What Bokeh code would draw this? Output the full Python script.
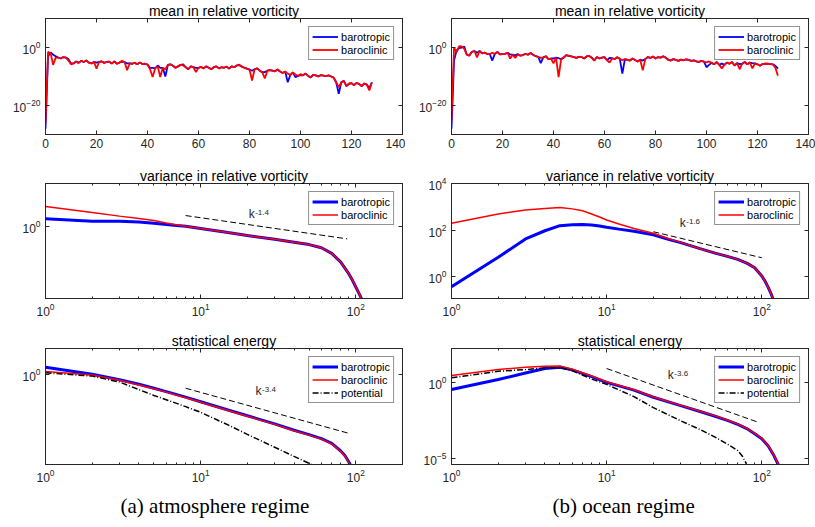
import numpy as np
from bokeh.plotting import figure
from bokeh.models import (Range1d, FixedTicker, LinearAxis, LogAxis, CustomJSTickFormatter,
                          Label, Title)
from bokeh.layouts import column, row
from bokeh.embed import file_html
from bokeh.resources import INLINE

# ---------------- data (log10 of the plotted values) ----------------
k_mean = list(range(129))

atm_mean_baroclinic_log10 = [
    -26, -1.5, -2.0, -6.0, -3.5, -3.5, -3.8, -3.3, -3.5, -4.5,
    -5.8, -5.5, -4.8, -5.3, -4.6, -5.0, -4.5, -5.2, -5.5, -5.0,
    -7.3, -5.0, -4.8, -5.3, -5.0, -4.9, -5.5, -4.8, -5.6, -5.2,
    -4.6, -5.0, -7.8, -5.5, -5.6, -5.3, -5.8, -5.2, -5.7, -5.6,
    -5.9, -7.5, -10.2, -7.2, -6.5, -10.2, -7.0, -7.5, -6.0, -5.8,
    -6.3, -7.0, -6.5, -6.0, -6.2, -6.8, -7.5, -6.5, -6.8, -8.5,
    -7.0, -6.7, -7.2, -6.5, -7.0, -7.5, -6.8, -6.5, -7.2, -6.8,
    -7.0, -6.6, -7.3, -6.5, -6.8, -6.2, -5.9, -6.6, -7.0, -7.3,
    -7.6, -11.4, -7.5, -7.2, -8.0, -8.5, -10.7, -8.0, -7.8, -8.0,
    -8.2, -7.6, -8.3, -8.8, -8.3, -9.0, -9.5, -8.6, -9.3, -9.8,
    -9.2, -9.6, -9.0, -9.8, -10.3, -9.4, -9.6, -10.0, -9.5, -9.7,
    -9.9, -9.6, -10.0, -10.4, -12.0, -13.7, -12.0, -11.5, -13.3, -12.5,
    -12.3, -13.0, -12.2, -12.6, -13.3, -12.4, -12.8, -14.8, -12.0]

atm_mean_barotropic_log10 = [
    -28, -3.0, -1.7, -2.5, -3.0, -3.5, -3.8, -3.3, -3.5, -4.0,
    -5.5, -5.5, -4.8, -5.3, -4.6, -5.0, -4.5, -5.2, -5.5, -5.0,
    -5.2, -5.0, -4.8, -5.3, -5.0, -4.9, -5.5, -4.8, -5.6, -5.2,
    -4.9, -5.0, -5.5, -5.5, -5.6, -5.3, -5.8, -5.2, -5.7, -5.6,
    -5.9, -7.0, -7.0, -7.2, -6.2, -7.0, -7.0, -10.0, -6.0, -5.8,
    -6.3, -7.0, -6.5, -6.0, -5.8, -6.8, -7.5, -6.5, -6.8, -7.0,
    -7.0, -6.7, -7.2, -6.5, -7.0, -7.5, -6.8, -6.5, -7.2, -6.8,
    -7.0, -6.6, -7.3, -6.5, -6.8, -6.2, -6.1, -6.6, -7.0, -7.3,
    -7.6, -8.0, -7.5, -7.2, -8.0, -8.5, -8.5, -8.0, -7.8, -8.0,
    -8.2, -7.6, -8.3, -8.8, -8.3, -12.0, -9.5, -8.6, -10.2, -9.8,
    -9.5, -9.6, -9.0, -9.8, -10.3, -9.4, -9.6, -10.0, -9.5, -9.7,
    -9.9, -9.6, -10.0, -10.4, -12.0, -16.0, -12.0, -11.5, -13.3, -12.5,
    -12.3, -13.0, -12.2, -12.6, -13.3, -12.4, -12.8, -14.0, -12.0]

ocn_mean_baroclinic_log10 = [
    -25, 0.0, -1.7, 0.5, 0.4, -0.5, -2.5, -2.8, -1.5, -1.2,
    -3.4, -1.2, -2.0, -1.8, -2.2, -2.3, -1.8, -2.2, -1.5, -2.4,
    -2.3, -2.2, -1.8, -3.8, -2.5, -3.6, -2.3, -2.8, -2.6, -2.2,
    -2.5, -1.9, -2.5, -3.0, -3.2, -3.6, -3.4, -3.0, -4.0, -3.8,
    -5.5, -3.5, -10.2, -4.0, -3.5, -2.6, -2.9, -3.1, -3.3, -3.6,
    -3.2, -3.3, -3.8, -3.1, -2.9, -3.5, -4.5, -3.3, -3.8, -3.5,
    -3.3, -4.4, -5.2, -3.7, -4.0, -3.4, -3.9, -4.4, -4.0, -4.3,
    -4.5, -3.8, -4.3, -4.8, -4.2, -7.9, -4.0, -3.3, -3.6, -3.1,
    -3.8, -3.3, -3.5, -3.0, -3.5, -4.2, -4.5, -4.0, -4.3, -4.6,
    -4.2, -4.4, -4.1, -4.3, -4.6, -4.4, -4.8, -5.0, -4.6, -4.9,
    -5.1, -4.8, -5.3, -5.8, -5.0, -6.0, -7.2, -6.0, -5.2, -5.6,
    -5.0, -6.2, -5.4, -7.5, -5.6, -5.0, -5.8, -5.2, -7.2, -5.5,
    -5.8, -6.3, -5.7, -5.6, -5.6, -5.7, -5.8, -7.0, -9.7]

ocn_mean_barotropic_log10 = [
    -28, -4.5, -1.0, -0.2, 0.0, 0.3, -2.5, -2.8, -1.5, -1.2,
    -1.8, -1.2, -2.0, -1.8, -2.2, -2.3, -4.5, -2.2, -1.5, -2.4,
    -2.3, -2.2, -1.8, -2.4, -2.5, -2.7, -2.3, -2.8, -2.6, -2.2,
    -2.5, -1.9, -2.5, -3.0, -3.2, -5.4, -3.4, -3.0, -4.0, -3.8,
    -3.8, -3.5, -3.7, -4.0, -3.5, -2.6, -2.9, -3.1, -3.3, -3.6,
    -3.2, -3.3, -3.8, -3.1, -2.9, -3.5, -4.5, -3.3, -3.8, -3.5,
    -3.3, -4.4, -3.6, -3.7, -4.0, -3.4, -3.9, -9.0, -4.0, -4.3,
    -4.5, -3.8, -4.3, -4.8, -4.2, -4.5, -4.0, -3.3, -3.6, -3.1,
    -3.8, -3.3, -3.5, -3.0, -3.5, -4.2, -4.5, -4.0, -4.3, -4.6,
    -4.2, -4.4, -4.1, -4.3, -4.6, -4.4, -4.8, -5.0, -4.6, -4.9,
    -6.8, -6.0, -5.3, -5.8, -5.0, -6.0, -5.5, -6.0, -5.2, -5.6,
    -5.0, -6.2, -5.4, -5.7, -5.6, -5.0, -5.8, -5.2, -5.4, -5.5,
    -5.8, -6.3, -5.7, -5.6, -5.6, -5.7, -5.8, -6.3, -7.3]

# variance in relative vorticity, atmosphere
atm_var_k = [1, 2, 3, 4, 5, 6, 7, 8, 10, 15, 20, 30, 40, 50, 60, 70, 80, 90, 95, 100, 105, 110, 115]
atm_var_barotropic_log10 = [0.48, 0.33, 0.33, 0.28, 0.20, 0.13, 0.07, 0.02, -0.12, -0.38, -0.56,
                            -0.8, -0.98, -1.13, -1.33, -1.68, -2.23, -2.95, -3.35, -3.78, -4.2,
                            -4.6, -5.2]
atm_var_baroclinic_log10 = [1.25, 0.88, 0.65, 0.5, 0.37, 0.22, 0.1, 0.02, -0.12, -0.38, -0.56,
                            -0.8, -0.98, -1.13, -1.33, -1.68, -2.23, -2.95, -3.35, -3.78, -4.2,
                            -4.6, -5.2]
atm_var_slope = -1.4
atm_var_slope_k = [8, 88]
atm_var_slope_amp = 10 ** 1.95

# variance in relative vorticity, ocean
ocn_var_k = [1, 2, 3, 4, 5, 6, 7, 8, 9, 10, 12, 15, 20, 25, 30, 40, 50, 60, 70, 80, 90, 100,
             105, 110, 115, 120, 125]
ocn_var_baroclinic_log10 = [2.29, 2.69, 2.86, 2.93, 2.97, 2.91, 2.83, 2.69, 2.56, 2.43, 2.26, 2.07,
                            1.86, 1.64, 1.47, 1.2, 1.01, 0.87, 0.74, 0.58, 0.38, 0.03, -0.2, -0.46,
                            -0.75, -1.1, -1.5]
ocn_var_barotropic_log10 = [-0.43, 0.83, 1.62, 1.97, 2.19, 2.23, 2.24, 2.22, 2.17, 2.12, 2.04, 1.95,
                            1.8, 1.6, 1.46, 1.2, 1.01, 0.87, 0.74, 0.58, 0.38, 0.03, -0.2, -0.46,
                            -0.75, -1.1, -1.5]
ocn_var_slope = -1.6
ocn_var_slope_k = [20, 100]
ocn_var_slope_amp = 10 ** 4.01

# statistical energy, atmosphere
atm_en_k = [1, 2, 3, 4, 5, 6, 8, 10, 15, 20, 30, 40, 50, 60, 70, 80, 85, 90, 95, 100]
atm_en_barotropic_log10 = [0.58, 0.02, -0.42, -0.78, -1.09, -1.36, -1.8, -2.16, -2.82, -3.27, -3.92,
                           -4.42, -4.77, -5.09, -5.47, -6.07, -6.42, -6.92, -7.47, -8.1]
atm_en_baroclinic_log10 = [0.24, -0.05, -0.46, -0.83, -1.14, -1.4, -1.84, -2.2, -2.86, -3.31, -3.96,
                           -4.46, -4.81, -5.13, -5.51, -6.11, -6.46, -6.96, -7.51, -8.14]
atm_en_pot_k = [1, 2, 3, 4, 5, 6, 8, 10, 15, 20, 30, 40, 50, 55, 60]
atm_en_potential_log10 = [0.13, -0.13, -0.6, -1.2, -1.67, -2.0, -2.55, -3.0, -4.0, -4.75, -5.77,
                          -6.5, -7.05, -7.3, -7.6]
atm_en_slope = -3.4
atm_en_slope_k = [8, 90]
atm_en_slope_amp = 10 ** 1.98

# statistical energy, ocean
ocn_en_k = [1, 2, 3, 4, 5, 6, 8, 10, 15, 20, 30, 40, 50, 60, 70, 80, 90, 100, 110, 120, 128, 135]
ocn_en_baroclinic_log10 = [0.43, 0.82, 0.97, 1.04, 1.06, 0.84, 0.4, 0.02, -0.5, -0.97, -1.52, -1.9,
                           -2.21, -2.48, -2.75, -3.02, -3.36, -3.68, -4.16, -4.8, -5.4, -6.2]
ocn_en_barotropic_log10 = [-0.48, 0.17, 0.6, 0.89, 0.97, 0.8, 0.36, -0.02, -0.52, -0.99, -1.54, -1.92,
                           -2.23, -2.5, -2.77, -3.04, -3.38, -3.7, -4.18, -4.82, -5.42, -6.22]
ocn_en_pot_k = [1, 2, 3, 4, 5, 6, 8, 10, 15, 20, 30, 40, 50, 60, 70, 75, 80, 85]
ocn_en_potential_log10 = [0.28, 0.71, 0.82, 0.93, 0.95, 0.75, 0.2, -0.15, -0.95, -1.67, -2.53, -3.1,
                          -3.6, -4.05, -4.48, -4.85, -5.4, -6.0]
ocn_en_slope = -3.6
ocn_en_slope_k = [10, 95]
ocn_en_slope_amp = 10 ** 4.49

mean_xticks = [0, 20, 40, 60, 80, 100, 120, 140]
log_xticks = [1, 10, 100]
log_xminor = [2, 3, 4, 5, 6, 7, 8, 9, 20, 30, 40, 50, 60, 70, 80, 90, 200]

# ---------------- styling ----------------
FONT = "Liberation Sans"
AX = "#262626"
BLUE = "#0000ff"
RED = "#ff0000"


def pw(e):
    return [10.0 ** v for v in e]


def style_axis(ax, standoff=5):
    ax.major_tick_in = 4
    ax.major_tick_out = 0
    ax.minor_tick_in = 2
    ax.minor_tick_out = 0
    ax.axis_line_color = AX
    ax.axis_line_width = 1
    ax.major_tick_line_color = AX
    ax.minor_tick_line_color = AX
    ax.major_label_text_font = FONT
    ax.major_label_text_font_size = "12px"
    ax.major_label_text_color = AX
    ax.major_label_standoff = standoff


def make_fig(title, xlog, xr, xticks, xminor, yr, yticks, left, right, top, fh, bottom):
    p = figure(frame_width=357, frame_height=fh,
               x_axis_type="log" if xlog else "linear", y_axis_type="log",
               x_range=Range1d(*xr), y_range=Range1d(*yr),
               output_backend="svg", toolbar_location=None,
               min_border_left=left, min_border_right=right,
               min_border_top=top, min_border_bottom=bottom,
               background_fill_color="white", border_fill_color="white",
               outline_line_color=AX, outline_line_width=1)
    p.title.text = title
    p.title.align = "center"
    p.title.text_font = FONT
    p.title.text_font_size = "14px"
    p.title.text_font_style = "normal"
    p.title.text_color = "#000000"
    p.title.standoff = 0
    p.grid.visible = False
    p.xaxis.ticker = FixedTicker(ticks=xticks, minor_ticks=xminor)
    p.yaxis.ticker = FixedTicker(ticks=yticks, minor_ticks=[])
    style_axis(p.xaxis[0], standoff=4)
    style_axis(p.yaxis[0], standoff=5)
    # mirrored (box) ticks
    XA = LogAxis if xlog else LinearAxis
    top_ax = XA(ticker=FixedTicker(ticks=xticks, minor_ticks=xminor),
                formatter=CustomJSTickFormatter(code="return ''"))
    right_ax = LogAxis(ticker=FixedTicker(ticks=yticks, minor_ticks=[]),
                       formatter=CustomJSTickFormatter(code="return ''"))
    for a in (top_ax, right_ax):
        style_axis(a, standoff=0)
        a.major_label_text_font_size = "1px"
    p.add_layout(top_ax, "above")
    p.add_layout(right_ax, "right")
    return p


def style_legend(p):
    lg = p.legend[0]
    lg.location = "top_right"
    lg.margin = 8
    lg.padding = 3
    lg.spacing = 0
    lg.label_text_font = FONT
    lg.label_text_font_size = "11px"
    lg.label_text_color = "#000000"
    lg.label_height = 13
    lg.glyph_height = 13
    lg.glyph_width = 26
    lg.label_standoff = 3
    lg.border_line_color = AX
    lg.border_line_width = 1
    lg.background_fill_color = "white"
    lg.background_fill_alpha = 1.0


def slope(p, ks, amp, s, k0, gap, sup):
    p.line(ks, [amp * k ** s for k in ks], line_color="black", line_width=1, line_dash="6 3")
    y0 = amp * k0 ** s
    p.add_layout(Label(x=k0, y=y0, y_offset=gap, text="k", text_font=FONT,
                       text_font_size="12px", text_color=AX))
    p.add_layout(Label(x=k0, y=y0, x_offset=6.5, y_offset=gap + 6, text=sup, text_font=FONT,
                       text_font_size="8px", text_color=AX))


# ---------------- row 1: mean ----------------
p11 = make_fig("mean in relative vorticity", False, (0, 140), mean_xticks, [],
               (1e-30, 1e10), [1e-20, 1e0], 45, 3, 18, 116, 26)
p11.line(k_mean, pw(atm_mean_barotropic_log10), line_color=BLUE, line_width=1.8, legend_label="barotropic")
p11.line(k_mean, pw(atm_mean_baroclinic_log10), line_color=RED, line_width=1.8, legend_label="baroclinic")
style_legend(p11)

p12 = make_fig("mean in relative vorticity", False, (0, 140), mean_xticks, [],
               (1e-30, 1e10), [1e-20, 1e0], 46, 7, 18, 116, 26)
p12.line(k_mean, pw(ocn_mean_barotropic_log10), line_color=BLUE, line_width=1.8, legend_label="barotropic")
p12.line(k_mean, pw(ocn_mean_baroclinic_log10), line_color=RED, line_width=1.8, legend_label="baroclinic")
style_legend(p12)

# ---------------- row 2: variance ----------------
p21 = make_fig("variance in relative vorticity", True, (1, 200), log_xticks, log_xminor,
               (10 ** -4.5, 10 ** 2.69), [1e0], 45, 3, 23, 115, 27)
p21.line(atm_var_k, pw(atm_var_barotropic_log10), line_color=BLUE, line_width=3, legend_label="barotropic")
p21.line(atm_var_k, pw(atm_var_baroclinic_log10), line_color=RED, line_width=1.5, legend_label="baroclinic")
slope(p21, atm_var_slope_k, atm_var_slope_amp, atm_var_slope, 20.4, 4, "-1.4")
style_legend(p21)

p22 = make_fig("variance in relative vorticity", True, (1, 200), log_xticks, log_xminor,
               (10 ** -0.94, 1e4), [1e0, 1e2, 1e4], 46, 7, 23, 115, 27)
p22.line(ocn_var_k, pw(ocn_var_barotropic_log10), line_color=BLUE, line_width=3, legend_label="barotropic")
p22.line(ocn_var_k, pw(ocn_var_baroclinic_log10), line_color=RED, line_width=1.5, legend_label="baroclinic")
slope(p22, ocn_var_slope_k, ocn_var_slope_amp, ocn_var_slope, 29.6, 8, "-1.6")
style_legend(p22)

# ---------------- row 3: energy ----------------
p31 = make_fig("statistical energy", True, (1, 200), log_xticks, log_xminor,
               (10 ** -7.14, 10 ** 2.06), [1e0], 45, 3, 23, 116, 63)
p31.line(atm_en_k, pw(atm_en_barotropic_log10), line_color=BLUE, line_width=3, legend_label="barotropic")
p31.line(atm_en_k, pw(atm_en_baroclinic_log10), line_color=RED, line_width=1.5, legend_label="baroclinic")
p31.line(atm_en_pot_k, pw(atm_en_potential_log10), line_color="black", line_width=1.5,
         line_dash="6 2 1 2", legend_label="potential")
slope(p31, atm_en_slope_k, atm_en_slope_amp, atm_en_slope, 22.6, 10, "-3.4")
style_legend(p31)

p32 = make_fig("statistical energy", True, (1, 200), log_xticks, log_xminor,
               (10 ** -5.39, 10 ** 2.2), [1e-5, 1e0], 46, 7, 23, 116, 63)
p32.line(ocn_en_k, pw(ocn_en_barotropic_log10), line_color=BLUE, line_width=3, legend_label="barotropic")
p32.line(ocn_en_k, pw(ocn_en_baroclinic_log10), line_color=RED, line_width=1.5, legend_label="baroclinic")
p32.line(ocn_en_pot_k, pw(ocn_en_potential_log10), line_color="black", line_width=1.5,
         line_dash="6 2 1 2", legend_label="potential")
slope(p32, ocn_en_slope_k, ocn_en_slope_amp, ocn_en_slope, 24.8, 8, "-3.6")
style_legend(p32)

for p, cap, off in ((p31, "(a) atmosphere regime", 75), (p32, "(b) ocean regime", 101)):
    p.add_layout(Title(text=cap, align="left", text_font="Liberation Serif",
                       text_font_size="21px", text_font_style="normal",
                       text_color="#000000", standoff=15, offset=off), "below")

layout = column(row(p11, p12), row(p21, p22), row(p31, p32))
open("out.html", "w").write(file_html(layout, INLINE))
